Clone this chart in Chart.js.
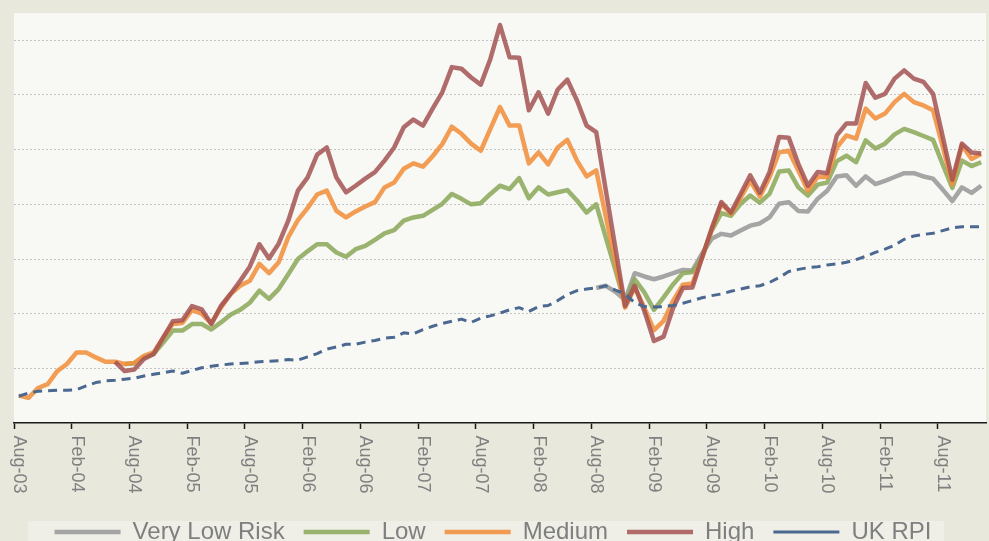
<!DOCTYPE html>
<html><head><meta charset="utf-8">
<script src="https://cdn.jsdelivr.net/npm/chart.js@4.4.1/dist/chart.umd.min.js"></script>
<style>
html,body{margin:0;padding:0;background:#e8e8dd;overflow:hidden;width:989px;height:541px;}
canvas{display:block;}
</style></head><body>
<canvas id="c" width="989" height="554"></canvas>
<script>
const months = [
 'Aug-03','Sep-03','Oct-03','Nov-03','Dec-03',
 'Jan-04','Feb-04','Mar-04','Apr-04','May-04','Jun-04','Jul-04','Aug-04','Sep-04','Oct-04','Nov-04','Dec-04',
 'Jan-05','Feb-05','Mar-05','Apr-05','May-05','Jun-05','Jul-05','Aug-05','Sep-05','Oct-05','Nov-05','Dec-05',
 'Jan-06','Feb-06','Mar-06','Apr-06','May-06','Jun-06','Jul-06','Aug-06','Sep-06','Oct-06','Nov-06','Dec-06',
 'Jan-07','Feb-07','Mar-07','Apr-07','May-07','Jun-07','Jul-07','Aug-07','Sep-07','Oct-07','Nov-07','Dec-07',
 'Jan-08','Feb-08','Mar-08','Apr-08','May-08','Jun-08','Jul-08','Aug-08','Sep-08','Oct-08','Nov-08','Dec-08',
 'Jan-09','Feb-09','Mar-09','Apr-09','May-09','Jun-09','Jul-09','Aug-09','Sep-09','Oct-09','Nov-09','Dec-09',
 'Jan-10','Feb-10','Mar-10','Apr-10','May-10','Jun-10','Jul-10','Aug-10','Sep-10','Oct-10','Nov-10','Dec-10',
 'Jan-11','Feb-11','Mar-11','Apr-11','May-11','Jun-11','Jul-11','Aug-11','Sep-11','Oct-11','Nov-11','Dec-11'
];

const veryLowRisk = [
 null,null,null,null,null,null,null,null,null,null,
 null,null,null,null,null,null,null,null,null,null,
 null,null,null,null,null,null,null,null,null,null,
 null,null,null,null,null,null,null,null,null,null,
 null,null,null,null,null,null,null,null,null,null,
 null,null,null,null,null,null,null,null,null,null,
 119.7,120.1,119.0,117.5,122.4,121.8,121.3,121.8,122.4,123.0,
 122.9,126.0,128.7,129.6,129.3,130.2,131.1,131.5,132.6,135.1,
 135.4,133.8,133.7,136.0,137.5,140.1,140.3,138.4,140.1,138.7,
 139.3,140.0,140.7,140.7,140.1,139.7,137.7,135.6,138.1,137.1,
 138.4
];

const low = [
 null,null,null,null,null,null,null,null,null,null,
 null,105.8,105.9,107.0,107.6,109.7,111.9,111.9,113.1,113.1,
 112.1,113.4,114.8,115.7,117.0,119.2,117.7,119.5,122.2,125.0,
 126.4,127.7,127.7,126.2,125.4,126.8,127.4,128.5,129.7,130.3,
 132.0,132.6,132.9,134.0,135.1,136.9,136.0,135.0,135.2,136.9,
 138.4,137.8,139.8,136.1,138.1,136.8,137.2,137.6,135.7,133.5,
 135.0,128.9,122.9,116.8,121.3,118.9,115.7,118.0,120.4,122.4,
 122.6,125.3,130.2,133.4,132.9,135.1,136.6,135.3,136.9,141.0,
 141.2,138.1,136.6,138.6,139.0,142.9,143.9,142.7,146.7,145.2,
 146.1,147.8,148.8,148.2,147.5,146.8,142.3,138.0,143.0,142.0,
 142.7
];

const medium = [
 100.0,99.6,101.4,102.1,104.5,105.8,107.9,107.9,107.0,106.2,
 106.2,105.8,106.0,107.3,107.9,110.6,113.1,113.3,115.7,115.0,
 113.2,116.1,118.6,120.1,121.0,124.1,122.4,124.4,129.0,132.1,
 134.3,136.8,137.5,133.8,132.6,133.7,134.6,135.4,138.1,139.0,
 141.5,142.5,141.9,143.8,146.0,149.2,147.9,146.1,144.8,148.8,
 152.8,149.4,149.4,142.5,144.5,142.3,145.4,146.8,143.0,140.1,
 141.2,132.7,124.3,116.1,119.8,116.1,112.0,113.7,117.4,120.3,
 120.5,125.3,130.4,135.1,133.3,136.2,139.3,136.4,139.9,144.5,
 144.8,141.2,137.5,140.0,140.0,145.4,147.6,147.0,152.5,150.7,
 151.6,153.7,155.2,153.7,153.1,152.2,145.6,138.7,145.8,143.3,
 144.2
];

const high = [
 null,null,null,null,null,null,null,null,null,null,
 106.2,104.5,104.8,106.7,107.6,110.6,113.6,113.8,116.4,115.8,
 113.1,116.4,118.6,121.0,123.6,127.7,125.1,127.8,132.0,137.5,
 139.9,144.1,145.4,139.9,137.2,138.4,139.7,140.9,143.0,145.4,
 149.1,150.5,149.4,152.5,155.5,160.1,159.8,158.2,156.9,161.6,
 167.8,161.9,161.8,152.2,155.5,151.6,156.0,157.8,154.0,149.4,
 148.2,137.5,126.9,116.4,120.1,115.5,110.0,110.8,116.1,119.7,
 119.8,125.3,130.6,135.4,133.5,136.9,140.3,137.1,140.9,147.3,
 147.2,142.4,138.4,140.9,140.7,147.6,149.8,149.8,157.2,154.5,
 155.2,158.0,159.5,158.0,157.4,155.2,147.4,139.5,146.1,144.5,
 144.3
];

const ukRpi = [
 99.9,100.5,100.8,100.9,101.0,101.0,101.1,101.8,102.4,102.7,
 102.8,103.0,103.2,103.6,103.9,104.2,104.5,104.1,104.6,105.1,
 105.4,105.6,105.8,105.9,106.0,106.2,106.3,106.4,106.6,106.5,
 107.1,107.7,108.5,108.9,109.4,109.4,109.8,110.1,110.5,110.7,
 111.5,111.3,112.1,112.7,113.2,113.6,114.0,113.4,114.2,114.6,
 115.1,115.7,116.1,115.4,116.3,116.5,117.4,118.5,119.2,119.5,
 119.7,120.1,119.3,118.6,117.0,116.3,116.2,116.3,116.5,116.9,
 117.4,117.9,118.3,118.6,119.1,119.5,119.9,120.1,120.7,121.6,
 122.7,123.1,123.4,123.6,123.9,124.1,124.4,124.9,125.5,126.2,
 126.8,127.5,128.6,129.2,129.5,129.7,130.2,130.7,130.9,130.9,
 130.9
];

const seriesNames = ['Very Low Risk', 'Low', 'Medium', 'High', 'UK RPI'];
const yGridTicks = [105, 115, 125, 135, 145, 155, 165];
const xLabelEvery = 6;

const FONT = '"Liberation Sans", Arial, sans-serif';
Chart.defaults.font.family = FONT;
const LEGEND_PAD = 19;

const bgPlugin = {
  id: 'bg',
  beforeDraw(chart) {
    const { ctx, chartArea: a, legend } = chart;
    ctx.save();
    ctx.fillStyle = '#f8f8f4';
    ctx.fillRect(a.left, a.top, a.right - a.left, a.bottom - a.top);
    ctx.fillStyle = '#efefe7';
    const top = legend.top + LEGEND_PAD + 1;
    ctx.fillRect(28, top, 916, chart.height - top);
    ctx.restore();
  }
};

const xLabelPlugin = {
  id: 'xlabels',
  afterDraw(chart) {
    const xs = chart.scales.x, ctx = chart.ctx;
    const half = (xs.getPixelForValue(1) - xs.getPixelForValue(0)) / 2;
    ctx.save();
    ctx.font = '18px ' + FONT;
    ctx.fillStyle = '#808080';
    ctx.textAlign = 'left';
    ctx.textBaseline = 'alphabetic';
    months.forEach((m, i) => {
      if (i % xLabelEvery) return;
      const x = xs.getPixelForValue(i) - half;
      ctx.save();
      ctx.translate(x, chart.chartArea.bottom + 12.5);
      ctx.rotate(Math.PI / 2);
      ctx.fillText(m, 0, 0);
      ctx.restore();
    });
    ctx.restore();
  }
};

function lineSet(label, data, color, order, extra) {
  return Object.assign({
    label, data,
    borderColor: color, backgroundColor: color,
    borderWidth: 4.5, pointRadius: 0, pointHoverRadius: 0,
    tension: 0, fill: false, spanGaps: false,
    borderJoinStyle: 'round', borderCapStyle: 'butt', order
  }, extra || {});
}

new Chart(document.getElementById('c'), {
  type: 'line',
  data: {
    labels: months,
    datasets: [
      lineSet(seriesNames[0], veryLowRisk, 'rgba(150,150,150,0.85)', 5),
      lineSet(seriesNames[1], low, 'rgba(140,168,92,0.88)', 4),
      lineSet(seriesNames[2], medium, 'rgba(240,143,60,0.88)', 3),
      lineSet(seriesNames[3], high, 'rgba(163,82,82,0.85)', 2),
      lineSet(seriesNames[4], ukRpi, '#4b6890', 1, { borderWidth: 3, borderDash: [9, 6] })
    ]
  },
  options: {
    responsive: false,
    animation: false,
    devicePixelRatio: 1,
    layout: { padding: { left: 0, right: 3, top: 13, bottom: 0 } },
    plugins: {
      legend: {
        position: 'bottom',
        labels: {
          usePointStyle: true, pointStyle: 'line', pointStyleWidth: 66,
          font: { size: 24, family: FONT }, color: '#7f7f7f', padding: LEGEND_PAD,
          sort: (a, b) => a.datasetIndex - b.datasetIndex
        }
      },
      tooltip: { enabled: false }
    },
    scales: {
      x: {
        type: 'category', offset: true,
        grid: {
          offset: true, drawOnChartArea: false, drawTicks: true, tickLength: 6, tickWidth: 1.5,
          tickColor: c => (c.index % xLabelEvery === 0 ? '#1a1a1a' : 'rgba(0,0,0,0)')
        },
        border: { display: true, color: '#1a1a1a', width: 1.5 },
        ticks: { display: false },
        afterFit: s => { s.height = 78; }
      },
      y: {
        min: 95, max: 170,
        afterBuildTicks: s => { s.ticks = yGridTicks.map(v => ({ value: v })); },
        ticks: { display: false },
        grid: { color: '#c4c4c4', lineWidth: 1, drawTicks: false },
        border: { display: false, dash: [2, 2] },
        afterFit: s => { s.width = 14; }
      }
    }
  },
  plugins: [bgPlugin, xLabelPlugin]
});
</script>
</body></html>
